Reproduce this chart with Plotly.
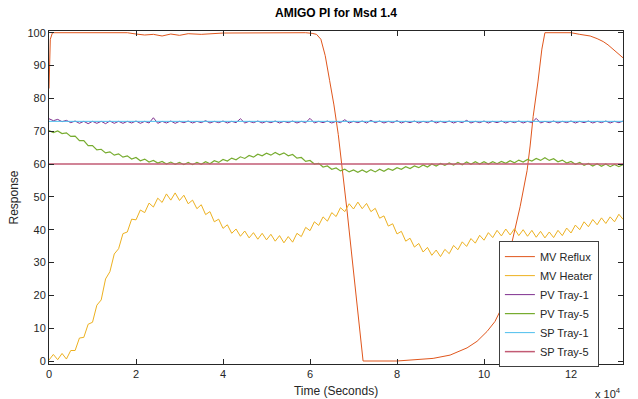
import plotly.graph_objects as go

# sample times (s) for the noisy signals: every 1000 s from 0 to 132000
t_grid = list(range(0, 133000, 1000))

mv_heater = [
    0.3, 2.0, 0.4, 2.3, 0.6, 3.2, 3.2, 7.0, 7.2, 11.2,
    11.8, 17.0, 18.6, 25.0, 27.2, 32.6, 34.2, 38.8, 39.3, 43.2,
    43.0, 46.0, 45.2, 48.1, 46.9, 49.6, 48.3, 50.9, 49.0, 51.2,
    48.9, 50.5, 47.9, 49.0, 46.4, 47.6, 44.6, 45.5, 42.4, 43.2,
    40.4, 41.5, 38.9, 40.2, 38.0, 39.6, 37.5, 39.1, 37.1, 38.9,
    36.9, 38.6, 36.5, 38.2, 36.0, 37.9, 36.2, 38.9, 37.9, 40.7,
    39.7, 42.4, 41.3, 43.9, 42.6, 45.2, 44.0, 46.7, 45.5, 47.9,
    46.3, 48.4, 46.4, 48.0, 45.5, 46.5, 43.5, 44.2, 41.1, 41.8,
    38.7, 39.5, 36.5, 37.4, 34.7, 35.8, 33.2, 34.6, 32.2, 33.8,
    31.8, 34.0, 32.7, 35.2, 33.9, 36.3, 34.9, 37.3, 35.9, 38.3,
    36.8, 39.1, 37.6, 39.8, 38.1, 40.2, 38.4, 40.3, 38.2, 40.0,
    38.0, 39.8, 37.7, 39.5, 37.5, 39.3, 37.6, 39.8, 38.2, 40.5,
    39.0, 41.4, 40.0, 42.4, 40.9, 43.1, 41.5, 43.6, 41.9, 43.9,
    42.4, 44.7, 43.1,
]

pv_tray1 = [
    73.8, 73.2, 73.6, 72.9, 73.3, 72.6, 73.1, 72.4, 73.0, 72.3,
    73.0, 72.4, 73.0, 72.3, 73.1, 72.4, 73.0, 72.4, 73.0, 72.5,
    73.1, 72.4, 73.0, 72.5, 74.1, 72.4, 73.0, 72.5, 73.1, 72.4,
    73.0, 72.6, 73.1, 72.5, 73.0, 72.6, 73.2, 72.5, 73.0, 72.6,
    73.1, 72.5, 73.0, 72.6, 73.8, 72.5, 73.0, 72.6, 73.1, 72.5,
    73.0, 72.6, 73.1, 72.5, 73.0, 72.6, 73.1, 72.5, 73.0, 72.6,
    73.9, 72.5, 73.0, 72.6, 73.1, 72.5, 73.0, 72.6, 73.5, 72.5,
    73.0, 72.6, 73.1, 72.5, 73.3, 72.6, 73.1, 72.5, 73.0, 72.6,
    73.2, 72.5, 73.0, 72.6, 73.1, 72.5, 73.0, 72.6, 73.2, 72.5,
    73.0, 72.6, 73.1, 72.5, 73.0, 72.6, 73.3, 72.5, 73.0, 72.6,
    73.1, 72.5, 73.0, 72.6, 73.1, 72.5, 73.0, 72.6, 73.1, 72.5,
    73.0, 72.6, 73.9, 72.5, 73.0, 72.6, 73.1, 72.5, 73.0, 72.6,
    73.1, 72.5, 73.0, 72.6, 73.1, 72.5, 73.0, 72.6, 73.1, 72.5,
    73.0, 72.6, 73.1,
]

pv_tray5 = [
    70.2, 69.6, 70.1, 69.3, 69.5, 68.4, 68.5, 67.1, 67.1, 65.6,
    65.6, 64.3, 64.5, 63.4, 63.7, 62.7, 63.1, 62.1, 62.5, 61.5,
    62.0, 61.0, 61.5, 60.6, 61.1, 60.3, 60.8, 60.0, 60.6, 59.9,
    60.5, 59.8, 60.5, 59.8, 60.5, 59.9, 60.7, 60.1, 61.0, 60.5,
    61.4, 60.9, 61.8, 61.3, 62.2, 61.7, 62.6, 62.1, 63.0, 62.5,
    63.3, 62.7, 63.5, 62.8, 63.4, 62.5, 62.9, 61.8, 62.0, 60.8,
    61.1, 60.0, 60.2, 59.1, 59.4, 58.4, 58.8, 57.9, 58.4, 57.6,
    58.2, 57.5, 58.2, 57.5, 58.3, 57.6, 58.4, 57.8, 58.6, 58.1,
    58.9, 58.4, 59.2, 58.6, 59.4, 58.9, 59.7, 59.1, 60.0, 59.4,
    60.2, 59.6, 60.3, 59.7, 60.5, 59.8, 60.6, 59.9, 60.7, 60.0,
    60.7, 60.0, 60.7, 60.1, 60.8, 60.2, 61.0, 60.4, 61.2, 60.6,
    61.4, 60.9, 61.7, 61.1, 61.9, 61.1, 61.6, 60.7, 61.2, 60.3,
    60.8, 59.9, 60.5, 59.6, 60.2, 59.4, 60.1, 59.3, 60.0, 59.2,
    59.9, 59.2, 59.9,
]

# MV Reflux read at key times (s)
reflux_t = [0, 300, 800, 18000, 20000, 22000, 24000, 26000, 28000, 30000,
            32000, 35000, 40000, 50000, 59000, 60500, 61500, 62500, 63500,
            64500, 65500, 66500, 67500, 68500, 69500, 70500, 71500, 72200,
            80000, 84000, 88300, 92200, 96100, 98400, 100700, 102500, 104000,
            104800, 106400, 108300, 109900, 110600, 111300, 112400, 113300,
            114000, 120000, 122000, 124400, 126000, 127400, 128500, 129700,
            130800, 132000]
reflux_v = [83.0, 98.0, 100.0, 100.0, 99.6, 99.3, 99.5, 99.0, 99.6, 99.2,
            99.7, 99.5, 99.9, 100.0, 100.0, 99.8, 99.5, 98.0, 93.0,
            85.5, 78.0, 69.0, 58.0, 46.0, 33.5, 20.5, 7.5, 0.0,
            0.0, 0.3, 0.8, 1.8, 4.0, 6.0, 9.0, 12.0, 16.0,
            24.5, 36.0, 47.0, 58.0, 65.5, 74.5, 85.0, 95.0,
            100.0, 100.0, 99.5, 99.0, 98.2, 97.3, 96.3, 95.0,
            93.8, 92.3]

sp_t = [0, 132000]
sp_tray1 = [73.0, 73.0]
sp_tray5 = [60.0, 60.0]

x_tickvals = [0, 20000, 40000, 60000, 80000, 100000, 120000]
x_ticktext = ["0", "2", "4", "6", "8", "10", "12"]
y_tickvals = [0, 10, 20, 30, 40, 50, 60, 70, 80, 90, 100]

FONT = "Liberation Sans, Arial, sans-serif"
TXT = "#262626"

fig = go.Figure()
fig.add_trace(go.Scatter(x=reflux_t, y=reflux_v, mode="lines", name="MV Reflux",
                         line=dict(color="#E0561C", width=1)))
fig.add_trace(go.Scatter(x=t_grid, y=mv_heater, mode="lines", name="MV Heater",
                         line=dict(color="#EDB120", width=1)))
fig.add_trace(go.Scatter(x=t_grid, y=pv_tray1, mode="lines", name="PV Tray-1",
                         line=dict(color="#7E2F8E", width=1)))
fig.add_trace(go.Scatter(x=t_grid, y=pv_tray5, mode="lines", name="PV Tray-5",
                         line=dict(color="#77AC30", width=1.2)))
fig.add_trace(go.Scatter(x=sp_t, y=sp_tray1, mode="lines", name="SP Tray-1",
                         line=dict(color="#4DBEEE", width=1)))
fig.add_trace(go.Scatter(x=sp_t, y=sp_tray5, mode="lines", name="SP Tray-5",
                         line=dict(color="#C25B74", width=1.5)))

axis_common = dict(showline=True, linecolor="#262626", linewidth=1, mirror="ticks",
                   ticks="inside", ticklen=5, tickcolor="#262626", showgrid=False,
                   zeroline=False, automargin=False,
                   tickfont=dict(family=FONT, size=11, color=TXT))

fig.update_layout(
    width=638, height=399,
    margin=dict(l=49, r=15, t=31, b=35, autoexpand=False),
    paper_bgcolor="white", plot_bgcolor="white",
    showlegend=True,
    title=dict(text="<b>AMIGO PI for Msd 1.4</b>", x=(49 + 623) / 2 / 638, xanchor="center",
               y=1 - 13 / 399, yanchor="middle",
               font=dict(family=FONT, size=12, color="black")),
    legend=dict(x=0.958, xanchor="right", y=0.369, yanchor="top",
                bgcolor="white", bordercolor="#404040", borderwidth=1,
                font=dict(family=FONT, size=11, color=TXT),
                tracegroupgap=0, itemwidth=30),
    font=dict(family=FONT, size=11, color=TXT),
)
fig.update_xaxes(range=[0, 131950], tickvals=x_tickvals, ticktext=x_ticktext,
                 title=dict(text="Time (Seconds)", font=dict(family=FONT, size=12, color=TXT),
                            standoff=7),
                 **axis_common)
fig.update_yaxes(range=[-0.91, 100.52], tickvals=y_tickvals,
                 title=dict(text="Response", font=dict(family=FONT, size=12, color=TXT),
                            standoff=6),
                 **axis_common)
fig.add_annotation(text="x 10<sup>4</sup>", xref="paper", yref="paper",
                   x=1.0, xanchor="right", y=-0.06, yanchor="top", showarrow=False,
                   font=dict(family=FONT, size=11, color=TXT))

fig.write_html("out.html", config={"displayModeBar": False},
               post_script="document.body.style.margin='0';")
